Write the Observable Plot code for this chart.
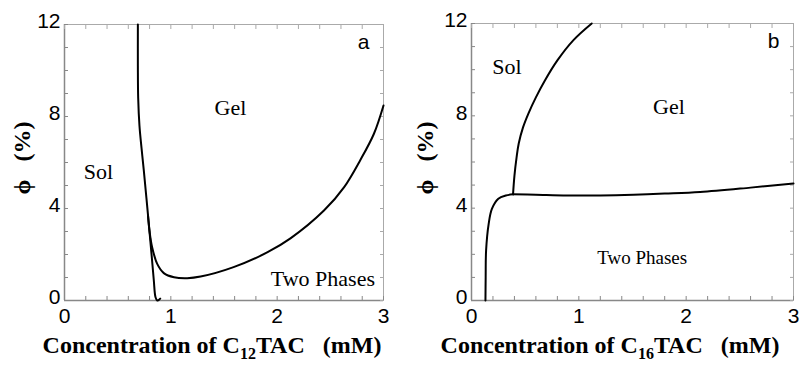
<!DOCTYPE html>
<html>
<head>
<meta charset="utf-8">
<script src="https://cdn.jsdelivr.net/npm/d3@7"></script>
<script src="https://cdn.jsdelivr.net/npm/@observablehq/plot@0.6"></script>
<style>
  body { margin: 0; background: #fff; }
  #wrap { display: flex; width: 809px; height: 365px; overflow: hidden; }
</style>
</head>
<body>
<div id="wrap"></div>
<script>
// ---- data ----
const xTicks = [0, 1, 2, 3];
const yTicks = [0, 4, 8, 12];
const xMinor = d3.range(0, 3.0001, 0.2);
const yMinor = d3.range(0, 12.0001, 1);

// panel a (C12TAC)
const aSolGelX = [0.69, 0.69, 0.693, 0.705, 0.725, 0.746, 0.79, 0.818, 0.84, 0.856, 0.872, 0.885, 0.9];
const aSolGelY = [12, 10.2, 8.8, 7.6, 6.6, 5.65, 3.48, 2.04, 0.87, 0.14, 0.0, 0.02, 0.08];
const aGelX = [0.785, 0.80, 0.824, 0.872, 0.934, 1.03, 1.154, 1.28, 1.59, 1.91, 2.125, 2.44, 2.63, 2.78, 2.91, 3.0];
const aGelY = [3.7, 3.0, 2.32, 1.59, 1.19, 1.01, 0.97, 1.04, 1.45, 2.1, 2.7, 3.91, 4.93, 6.09, 7.25, 8.48];
const aLabels = ["Sol", "Gel", "Two Phases"];
const aLabelX = [0.32, 1.56, 2.43];
const aLabelY = [5.6, 8.35, 0.94];
const aLabelSize = [22, 22, 22];

// panel b (C16TAC)
const bLowX = [0.13, 0.132, 0.136, 0.16, 0.19, 0.25, 0.32, 0.387];
const bLowY = [0, 1.0, 2.17, 3.32, 3.97, 4.41, 4.55, 4.6];
const bFlatX = [0.387, 0.6, 0.89, 1.2, 1.51, 1.8, 2.13, 2.6, 3.0];
const bFlatY = [4.6, 4.58, 4.55, 4.55, 4.58, 4.63, 4.7, 4.89, 5.07];
const bSolGelX = [0.387, 0.40, 0.42, 0.44, 0.48, 0.53, 0.6, 0.68, 0.8, 0.95, 1.12];
const bSolGelY = [4.6, 5.4, 6.2, 6.8, 7.5, 8.1, 8.8, 9.5, 10.4, 11.28, 12.0];
const bLabels = ["Sol", "Gel", "Two Phases"];
const bLabelX = [0.33, 1.84, 1.59];
const bLabelY = [10.1, 8.4, 1.84];
const bLabelSize = [22, 22, 19];

const zip = (xs, ys) => xs.map((x, i) => ({x, y: ys[i]}));

const tickFont = "'Liberation Sans Narrow', 'Liberation Sans', Arial, sans-serif";
const serif = "'Liberation Serif', 'Times New Roman', serif";

function panel({width, marginLeft, marginRight, marginTop, curves, labels, letter, sub, xLabelCenter, yLabelX, yLabelY}) {
  const marginBottom = 65;
  const height = 365;
  const marks = [
    Plot.frame({stroke: "#aaa", strokeWidth: 1}),
    Plot.ruleX([0], {stroke: "#888", strokeWidth: 1.5}),
    Plot.ruleY([0], {stroke: "#888", strokeWidth: 1.5}),
    // inward ticks on all four sides
    Plot.axisX({ticks: xMinor, anchor: "bottom", tickSize: -4, text: null, tickFormat: () => "", stroke: "#888"}),
    Plot.axisX({ticks: xMinor, anchor: "top", tickSize: -4, text: null, tickFormat: () => "", stroke: "#aaa"}),
    Plot.axisY({ticks: yMinor, anchor: "left", tickSize: -4, text: null, tickFormat: () => "", stroke: "#888"}),
    Plot.axisY({ticks: yMinor, anchor: "right", tickSize: -4, text: null, tickFormat: () => "", stroke: "#aaa"}),
    // tick labels
    Plot.axisX({ticks: xTicks, anchor: "bottom", tickSize: 0, tickPadding: 8, tickFormat: d3.format("d"), label: null, fontSize: 21, fontFamily: tickFont, fill: "#000"}),
    Plot.axisY({ticks: yTicks, anchor: "left", tickSize: 0, tickPadding: 4, tickFormat: d3.format("d"), label: null, fontSize: 21, fontFamily: tickFont, fill: "#000", dy: -3}),
    ...curves.map(c => Plot.line(c, {x: "x", y: "y", curve: "catmull-rom", stroke: "#000", strokeWidth: 2})),
    Plot.text(labels, {x: "x", y: "y", text: "t", fontSize: d => d.s, fontFamily: serif, fill: "#000"}),
    Plot.text([letter], {frameAnchor: "top-right", dx: -14, dy: 10, text: d => d, fontSize: 21, fontFamily: "'Liberation Sans', Arial, sans-serif", fill: "#000", textAnchor: "end", lineAnchor: "top"})
  ];
  const svg = Plot.plot({
    width, height, marginLeft, marginRight, marginTop, marginBottom,
    x: {domain: [0, 3], label: null},
    y: {domain: [0, 12], label: null},
    style: {background: "#fff", overflow: "visible"},
    marks
  });
  const s = d3.select(svg);
  const xl = s.append("text")
    .attr("x", xLabelCenter).attr("y", 353)
    .attr("text-anchor", "middle")
    .attr("font-family", serif).attr("font-weight", "bold").attr("font-size", 24).attr("fill", "#000");
  xl.append("tspan").text("Concentration of C");
  xl.append("tspan").attr("font-size", 16).attr("dy", 6).text(sub);
  xl.append("tspan").attr("dy", -6).text("TAC\u00a0\u00a0\u00a0(mM)");
  s.append("text")
    .attr("transform", `translate(${yLabelX},${yLabelY}) rotate(-90)`)
    .attr("text-anchor", "middle").attr("dy", "0.35em")
    .attr("font-family", serif).attr("font-weight", "bold").attr("font-size", 24).attr("fill", "#000")
    .text("\u03d5\u00a0\u00a0\u00a0(%)");
  return svg;
}

const wrap = document.getElementById("wrap");
wrap.appendChild(panel({
  width: 400, marginLeft: 64, marginRight: 17, marginTop: 24,
  curves: [zip(aSolGelX, aSolGelY), zip(aGelX, aGelY)],
  labels: aLabels.map((t, i) => ({t, x: aLabelX[i], y: aLabelY[i], s: aLabelSize[i]})),
  letter: "a", sub: "12", xLabelCenter: 212, yLabelX: 22, yLabelY: 158
}));
wrap.appendChild(panel({
  width: 409, marginLeft: 71, marginRight: 16, marginTop: 23,
  curves: [zip(bLowX, bLowY), zip(bFlatX, bFlatY), zip(bSolGelX, bSolGelY)],
  labels: bLabels.map((t, i) => ({t, x: bLabelX[i], y: bLabelY[i], s: bLabelSize[i]})),
  letter: "b", sub: "16", xLabelCenter: 210, yLabelX: 25, yLabelY: 158
}));
</script>
</body>
</html>
